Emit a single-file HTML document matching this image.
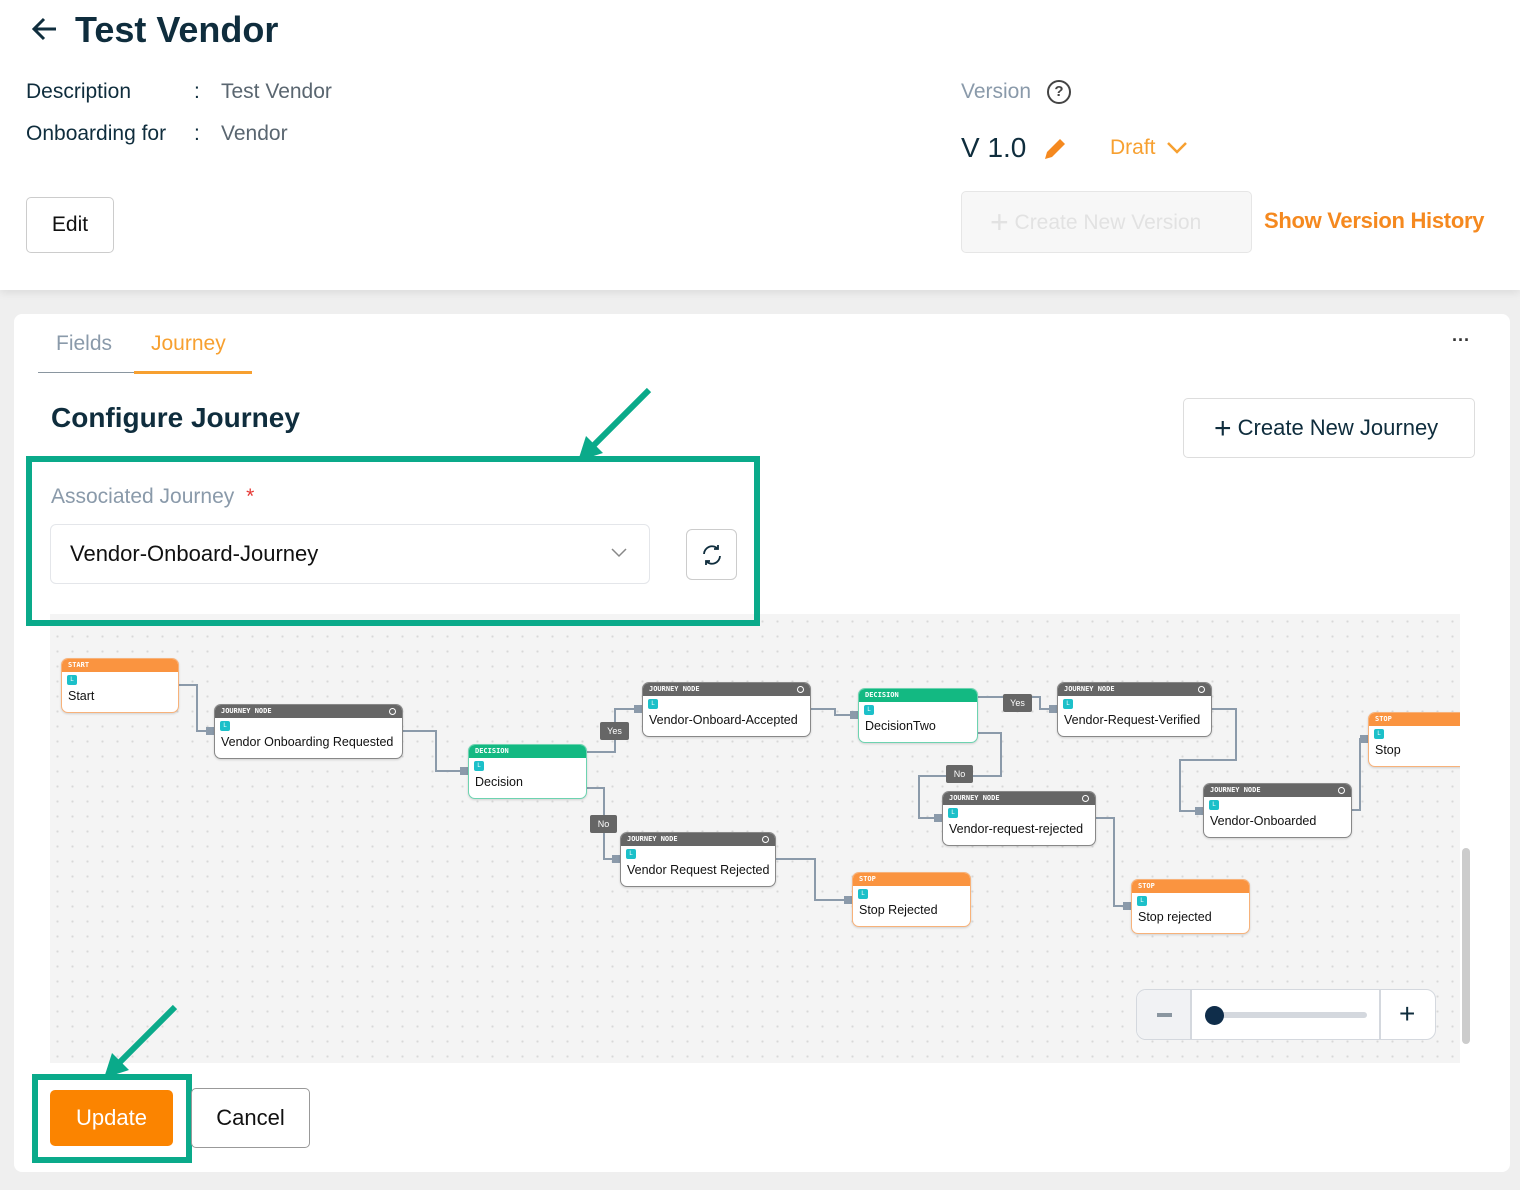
<!DOCTYPE html>
<html><head><meta charset="utf-8">
<style>
*{box-sizing:border-box;margin:0;padding:0}
body{width:1520px;height:1190px;position:relative;background:#efefef;font-family:"Liberation Sans",sans-serif;overflow:hidden;color:#0f2d3d}
.a{position:absolute}
.top{left:0;top:0;width:1520px;height:290px;background:#fff;box-shadow:0 3px 8px rgba(0,0,0,.08)}
.card{left:14px;top:314px;width:1496px;height:858px;background:#fff;border-radius:8px}
.node{position:absolute;background:#fff;border-radius:7px;border:1px solid #999;box-shadow:0 1px 2px rgba(0,0,0,.15);overflow:hidden}
.node .h{height:13px;color:#fff;font-family:"DejaVu Sans Mono",monospace;font-size:7px;font-weight:bold;line-height:13px;padding-left:6px;position:relative}
.node .i{width:10px;height:10px;background:#1cc0c9;border-radius:2px;margin:3px 0 0 5px;color:#fff;font-size:6px;line-height:10px;text-align:center}
.node .t{font-size:12.5px;color:#111;padding-left:6px;margin-top:4px;white-space:nowrap}
.jn{border-color:#888}.jn .h{background:#666}
.dc{border-color:#6dd3b0}.dc .h{background:#13b982}
.st{border-color:#f7b27a}.st .h{background:#fa9440}
.h .ic{position:absolute;right:6px;top:3px;width:7px;height:7px;border:1px solid #fff;border-radius:50%}
.lbl{position:absolute;background:#666;color:#fff;font-size:9px;border-radius:2px;text-align:center;line-height:18px;height:18px}
</style></head><body>
<div class="a top"></div>
<svg class="a" style="left:30px;top:16px" width="28" height="26"><path d="M26 13H4M14 3L4 13l10 10" stroke="#0f2d3d" stroke-width="3" fill="none"/></svg>
<div class="a" style="left:75px;top:9px;font-size:36px;font-weight:bold;color:#0f2d3d">Test Vendor</div>
<div class="a" style="left:26px;top:80px;font-size:21px;color:#0f2d3d">Description</div>
<div class="a" style="left:194px;top:80px;font-size:21px;color:#0f2d3d">:</div>
<div class="a" style="left:221px;top:80px;font-size:21px;color:#5a6670">Test Vendor</div>
<div class="a" style="left:26px;top:122px;font-size:21px;color:#0f2d3d">Onboarding for</div>
<div class="a" style="left:194px;top:122px;font-size:21px;color:#0f2d3d">:</div>
<div class="a" style="left:221px;top:122px;font-size:21px;color:#5a6670">Vendor</div>
<div class="a" style="left:26px;top:197px;width:88px;height:56px;border:1px solid #ccc;border-radius:5px;font-size:21px;text-align:center;line-height:54px;color:#111">Edit</div>
<div class="a" style="left:961px;top:80px;font-size:21px;color:#8a9aaa">Version</div>
<div class="a" style="left:1047px;top:80px;width:24px;height:24px;border:2px solid #444;border-radius:50%;font-size:15px;font-weight:bold;text-align:center;line-height:20px;color:#444">?</div>
<div class="a" style="left:961px;top:132px;font-size:28px;color:#0f2d3d">V 1.0</div>
<svg class="a" style="left:1042px;top:136px" width="26" height="26"><path d="M3 23l2-7L18 3l5 5L10 21z" fill="#f5891f"/></svg>
<div class="a" style="left:1110px;top:136px;font-size:21px;color:#f7a030">Draft</div>
<svg class="a" style="left:1166px;top:140px" width="22" height="16"><path d="M2 3l9 9 9-9" stroke="#f7a030" stroke-width="2.5" fill="none"/></svg>
<div class="a" style="left:961px;top:191px;width:291px;height:62px;background:#f7f7f7;border:1px solid #e6e6e6;border-radius:5px;font-size:21px;color:#e2e2e2;line-height:60px;padding-left:28px"><span style="font-size:32px;vertical-align:-4px">+</span> Create New Version</div>
<div class="a" style="left:1264px;top:208px;font-size:22px;font-weight:bold;color:#f5891f;letter-spacing:-0.3px">Show Version History</div>

<div class="a card"></div>
<div class="a" style="left:56px;top:332px;font-size:21px;color:#8a9aaa">Fields</div>
<div class="a" style="left:151px;top:332px;font-size:21px;color:#f7a030">Journey</div>
<div class="a" style="left:38px;top:372px;width:96px;height:1px;background:#8a96a0"></div>
<div class="a" style="left:134px;top:371px;width:118px;height:3px;background:#f7a030"></div>
<div class="a" style="left:1452px;top:330px;font-size:18px;font-weight:bold;color:#333">&middot;&middot;&middot;</div>
<div class="a" style="left:51px;top:402px;font-size:28px;font-weight:bold;color:#0f2d3d">Configure Journey</div>
<div class="a" style="left:1183px;top:398px;width:292px;height:60px;border:1px solid #ddd;border-radius:5px;font-size:22px;line-height:58px;padding-left:30px;color:#0f2d3d"><span style="font-size:30px;vertical-align:-3px">+</span> Create New Journey</div>
<div class="a" style="left:51px;top:485px;font-size:21px;color:#8a9aaa">Associated Journey <span style="color:#e53935;margin-left:6px">*</span></div>
<div class="a" style="left:50px;top:524px;width:600px;height:60px;border:1px solid #e4e6ea;border-radius:6px;font-size:22px;line-height:58px;padding-left:19px;color:#111">Vendor-Onboard-Journey</div>
<svg class="a" style="left:610px;top:547px" width="18" height="12"><path d="M2 2l7 7 7-7" stroke="#888" stroke-width="1.5" fill="none"/></svg>
<div class="a" style="left:686px;top:529px;width:51px;height:51px;border:1px solid #ccc;border-radius:6px"></div>
<svg class="a" style="left:700px;top:543px" width="24" height="24" viewBox="0 0 24 24"><path d="M4 11a8 8 0 0 1 14-5M20 13a8 8 0 0 1-14 5" stroke="#0f2d3d" stroke-width="1.8" fill="none"/><path d="M18 2v4h-4M6 22v-4h4" stroke="#0f2d3d" stroke-width="1.8" fill="none"/></svg>

<div class="a" style="left:50px;top:614px;width:1410px;height:449px;background-color:#f4f4f4;background-image:radial-gradient(#d8d8d8 1px,transparent 1.2px);background-size:15px 15px"></div>
<svg class="a" style="left:0;top:0" width="1520" height="1190">
<g stroke="#8b9aaa" stroke-width="2" fill="none">
<polyline points="179,685 197,685 197,731 214,731"/>
<polyline points="403,731 436,731 436,771 468,771"/>
<polyline points="587,752 615,752 615,709 642,709"/>
<polyline points="587,788 604,788 604,859 620,859"/>
<polyline points="811,709 835,709 835,715 858,715"/>
<polyline points="978,697 1040,697 1040,709 1057,709"/>
<polyline points="978,733 1001,733 1001,776 919,776 919,818 942,818"/>
<polyline points="1212,709 1236,709 1236,760 1180,760 1180,811 1203,811"/>
<polyline points="1352,810 1360,810 1360,739 1368,739"/>
<polyline points="776,859 815,859 815,900 852,900"/>
<polyline points="1096,818 1114,818 1114,906 1131,906"/>
</g>
<g fill="#8b9aaa">
<rect x="206" y="727" width="8" height="8"/><rect x="460" y="767" width="8" height="8"/><rect x="634" y="705" width="8" height="8"/><rect x="612" y="855" width="8" height="8"/><rect x="850" y="711" width="8" height="8"/><rect x="1049" y="705" width="8" height="8"/><rect x="934" y="814" width="8" height="8"/><rect x="1195" y="807" width="8" height="8"/><rect x="1360" y="735" width="8" height="8"/><rect x="844" y="896" width="8" height="8"/><rect x="1123" y="902" width="8" height="8"/>
</g>
<path d="M649 390 L592 447" stroke="#0aaa8a" stroke-width="6"/>
<path d="M578 461 L586 436 L603 453 Z" fill="#0aaa8a"/>
<path d="M175 1007 L118 1064" stroke="#0aaa8a" stroke-width="6"/>
<path d="M104 1078 L112 1053 L129 1070 Z" fill="#0aaa8a"/>
</svg>
<div class="a" style="left:26px;top:456px;width:734px;height:170px;border:6px solid #0aaa8a"></div>

<div class="node st" style="left:61px;top:658px;width:118px;height:55px"><div class="h">START</div><div class="i">L</div><div class="t">Start</div></div>
<div class="node jn" style="left:214px;top:704px;width:189px;height:55px"><div class="h">JOURNEY NODE<span class="ic"></span></div><div class="i">L</div><div class="t">Vendor Onboarding Requested</div></div>
<div class="node dc" style="left:468px;top:744px;width:119px;height:55px"><div class="h">DECISION</div><div class="i">L</div><div class="t">Decision</div></div>
<div class="node jn" style="left:642px;top:682px;width:169px;height:55px"><div class="h">JOURNEY NODE<span class="ic"></span></div><div class="i">L</div><div class="t">Vendor-Onboard-Accepted</div></div>
<div class="node dc" style="left:858px;top:688px;width:120px;height:55px"><div class="h">DECISION</div><div class="i">L</div><div class="t">DecisionTwo</div></div>
<div class="node jn" style="left:1057px;top:682px;width:155px;height:55px"><div class="h">JOURNEY NODE<span class="ic"></span></div><div class="i">L</div><div class="t">Vendor-Request-Verified</div></div>
<div class="node st" style="left:1368px;top:712px;width:100px;height:55px"><div class="h">STOP</div><div class="i">L</div><div class="t">Stop</div></div>
<div class="node jn" style="left:1203px;top:783px;width:149px;height:55px"><div class="h">JOURNEY NODE<span class="ic"></span></div><div class="i">L</div><div class="t">Vendor-Onboarded</div></div>
<div class="node jn" style="left:942px;top:791px;width:154px;height:55px"><div class="h">JOURNEY NODE<span class="ic"></span></div><div class="i">L</div><div class="t">Vendor-request-rejected</div></div>
<div class="node jn" style="left:620px;top:832px;width:156px;height:55px"><div class="h">JOURNEY NODE<span class="ic"></span></div><div class="i">L</div><div class="t">Vendor Request Rejected</div></div>
<div class="node st" style="left:852px;top:872px;width:119px;height:55px"><div class="h">STOP</div><div class="i">L</div><div class="t">Stop Rejected</div></div>
<div class="node st" style="left:1131px;top:879px;width:119px;height:55px"><div class="h">STOP</div><div class="i">L</div><div class="t">Stop rejected</div></div>
<div class="a" style="left:1460px;top:614px;width:50px;height:449px;background:#fff"></div>
<div class="a" style="left:1462px;top:848px;width:8px;height:196px;background:#ccc;border-radius:4px"></div>

<div class="lbl" style="left:600px;top:722px;width:29px">Yes</div>
<div class="lbl" style="left:590px;top:815px;width:27px">No</div>
<div class="lbl" style="left:1003px;top:694px;width:29px">Yes</div>
<div class="lbl" style="left:946px;top:765px;width:27px">No</div>

<div class="a" style="left:1136px;top:989px;width:300px;height:51px;border:1px solid #d4d8de;border-radius:10px;background:#fff;overflow:hidden">
<div class="a" style="left:0;top:0;width:55px;height:51px;background:#f1f2f4;border-right:2px solid #d4d8de"></div>
<div class="a" style="left:20px;top:23px;width:15px;height:4px;background:#8a96a0"></div>
<div class="a" style="left:80px;top:22px;width:150px;height:6px;background:#d4d8de;border-radius:3px"></div>
<div class="a" style="left:68px;top:16px;width:19px;height:19px;background:#0f2d4a;border-radius:50%"></div>
<div class="a" style="left:242px;top:0;width:2px;height:51px;background:#d4d8de"></div>
<div class="a" style="left:262px;top:8px;font-size:28px;color:#0f2d3d">+</div>
</div>

<div class="a" style="left:32px;top:1074px;width:160px;height:89px;border:6px solid #0aaa8a"></div>
<div class="a" style="left:50px;top:1090px;width:123px;height:56px;background:#fb8400;border-radius:5px;color:#fff;font-size:22px;text-align:center;line-height:56px">Update</div>
<div class="a" style="left:191px;top:1088px;width:119px;height:60px;border:1px solid #999;border-radius:5px;font-size:22px;text-align:center;line-height:58px;color:#111">Cancel</div>
</body></html>
